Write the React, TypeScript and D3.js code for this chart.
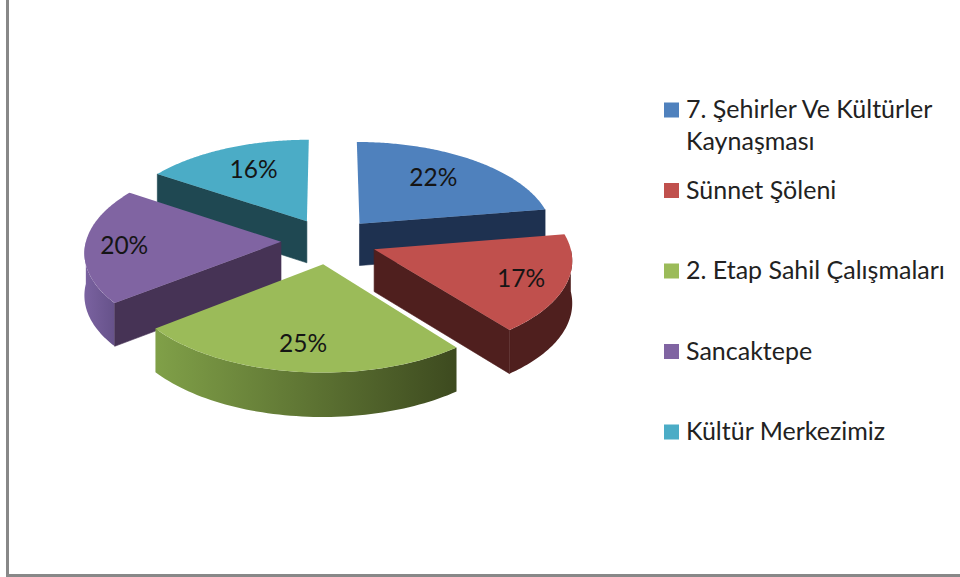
import React, { useEffect, useRef } from 'react';
import * as d3 from 'd3';

const categories = ['7. Şehirler Ve Kültürler', 'Sünnet Şöleni', '2. Etap Sahil Çalışmaları', 'Sancaktepe', 'Kültür Merkezimiz'];
const extraLines = ['Kaynaşması', '', '', '', ''];
const percents = [22.4, 17, 25, 20, 15.6];
const topColors = ['#4f81bd', '#c0504d', '#9bbb59', '#8064a2', '#4bacc6'];
const wallColors = ['#1e3150', '#4f1f1e', '#3f4d20', '#463355', '#1f4852'];
const outerFrom = ['#1e3150', '#4f1f1e', '#80a048', '#7a62a0', '#1f4852'];
const outerTo = ['#1e3150', '#4f1f1e', '#3d4a1f', '#66528a', '#1f4852'];
const labelRadius = [0.68, 0.78, 0.76, 0.8, 0.68];
const labelTurn = [-0.05, 0.03, 0, -0.02, 0.03];
const drawOrder = [4, 0, 3, 1, 2];

const width = 960;
const height = 577;
const cx = 329;
const cy = 241;
const rx = 195;
const ry = 93;
const persp = 0.097;
const explode = 0.246;
const fontFamily = 'Lato, "Open Sans", sans-serif';

const App = () => {
  const ref = useRef<SVGSVGElement>(null);

  useEffect(() => {
    const svg = d3.select(ref.current);
    svg.selectAll('*').remove();

    const arcs = d3
      .pie<number>()
      .sort(null)
      .value(d => d)(percents);
    const depth = d3.scaleLinear().domain([-1.3, 1.3]).range([39.5, 44.5]);

    const project = (wx: number, wz: number, drop = false) => {
      const w = 1 / (1 - persp * wz);
      return [cx + rx * wx * w, cy + ry * wz * w + (drop ? depth(wz) : 0)] as [number, number];
    };
    const line = d3.line();

    const defs = svg.append('defs');
    percents.forEach((_, i) => {
      const g = defs.append('linearGradient').attr('id', 'outer' + i);
      g.append('stop').attr('offset', 0).attr('stop-color', outerFrom[i]);
      g.append('stop').attr('offset', 1).attr('stop-color', outerTo[i]);
    });

    // Frame
    svg
      .append('rect')
      .attr('x', 7.5)
      .attr('y', -10)
      .attr('width', 1000)
      .attr('height', 585.5)
      .attr('fill', '#fff')
      .attr('stroke', '#888')
      .attr('stroke-width', 3);

    const pieGroup = svg.append('g');

    drawOrder.forEach(i => {
      const a = arcs[i];
      const mid = (a.startAngle + a.endAngle) / 2;
      const ox = explode * Math.sin(mid);
      const oz = -explode * Math.cos(mid);
      const rim = (t: number, r = 1): [number, number] => [ox + r * Math.sin(t), oz - r * Math.cos(t)];
      const P = (t: number, r = 1, drop = false) => {
        const q = rim(t, r);
        return project(q[0], q[1], drop);
      };
      const apex = P(0, 0);
      const midRim = P(mid);

      // Outer wall on the front half of the ellipse
      const from = Math.max(a.startAngle, Math.PI / 2);
      const to = Math.min(a.endAngle, (Math.PI * 3) / 2);
      if (to > from) {
        const steps = d3.range(0, 61).map(k => from + ((to - from) * k) / 60);
        const upper = steps.map(t => P(t));
        const lower = steps.map(t => P(t, 1, true)).reverse();
        pieGroup
          .append('path')
          .attr('fill', 'url(#outer' + i + ')')
          .attr('d', line(upper.concat(lower)) + 'Z');
      }

      // Cut faces, only those turned to the viewer (near-vertical ones are just slivers)
      [a.startAngle, a.endAngle].forEach(t => {
        const e = P(t);
        const cross = (e[0] - apex[0]) * (midRim[1] - apex[1]) - (e[1] - apex[1]) * (midRim[0] - apex[0]);
        if (cross * Math.sign(e[0] - apex[0]) < 0 && Math.abs(e[0] - apex[0]) > 5) {
          pieGroup
            .append('path')
            .attr('fill', wallColors[i])
            .attr('stroke', wallColors[i])
            .attr('stroke-width', 0.6)
            .attr('d', line([apex, e, P(t, 1, true), P(0, 0, true)]) + 'Z');
        }
      });

      // Top face
      const steps = d3.range(0, 121).map(k => a.startAngle + ((a.endAngle - a.startAngle) * k) / 120);
      pieGroup
        .append('path')
        .attr('fill', topColors[i])
        .attr('d', line([apex, ...steps.map(t => P(t))]) + 'Z');
    });

    // Percent labels
    arcs.forEach((a, i) => {
      const mid = (a.startAngle + a.endAngle) / 2;
      const t = mid + labelTurn[i];
      const q = project(
        explode * Math.sin(mid) + labelRadius[i] * Math.sin(t),
        -explode * Math.cos(mid) - labelRadius[i] * Math.cos(t)
      );
      svg
        .append('text')
        .attr('x', q[0])
        .attr('y', q[1])
        .attr('dy', 8)
        .attr('text-anchor', 'middle')
        .attr('font-family', fontFamily)
        .attr('font-size', 24.5)
        .attr('fill', '#151515')
        .text(Math.round(percents[i]) + '%');
    });

    // Legend
    const rowY = d3.scalePoint<string>().domain(categories).range([110, 432]);
    const legend = svg
      .selectAll('.legend-row')
      .data(categories)
      .enter()
      .append('g')
      .attr('class', 'legend-row')
      .attr('transform', d => 'translate(664,' + rowY(d) + ')');

    legend
      .append('rect')
      .attr('y', -7.5)
      .attr('width', 15)
      .attr('height', 15)
      .attr('fill', (d, i) => topColors[i]);

    legend
      .append('text')
      .attr('x', 22)
      .attr('y', 8)
      .attr('font-family', fontFamily)
      .attr('font-size', 25)
      .attr('fill', '#222')
      .text(d => d);

    legend
      .append('text')
      .attr('x', 22)
      .attr('y', 40)
      .attr('font-family', fontFamily)
      .attr('font-size', 25)
      .attr('fill', '#222')
      .text((d, i) => extraLines[i]);
  }, []);

  return <svg ref={ref} width={width} height={height} style={{ position: 'absolute', left: 0, top: 0, display: 'block' }} />;
};

export default App;
